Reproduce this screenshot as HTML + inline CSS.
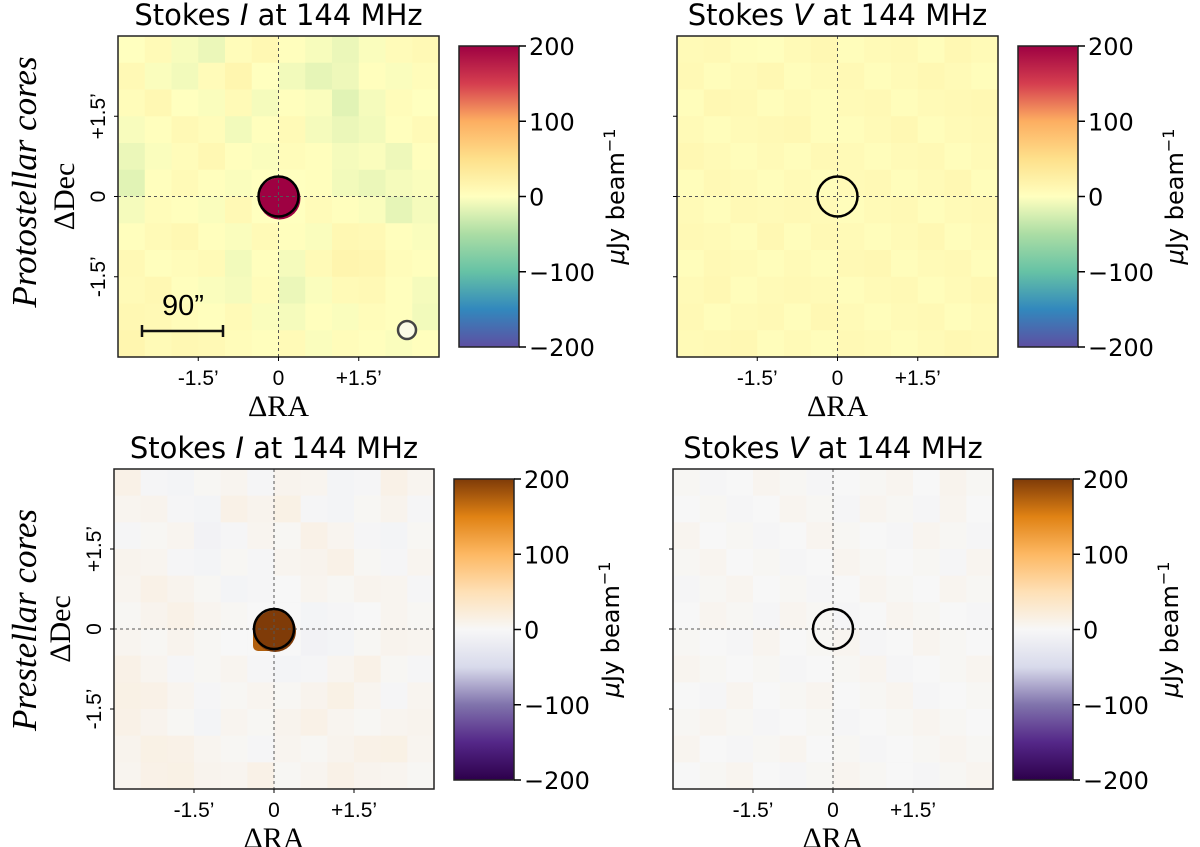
<!DOCTYPE html>
<html><head><meta charset="utf-8"><style>
html,body{margin:0;padding:0;background:#fff;width:1200px;height:847px;overflow:hidden}
svg{display:block}
.t{font-family:"DejaVu Sans","Liberation Sans",sans-serif;font-size:24px;fill:#000}
.ttl{font-family:"DejaVu Sans","Liberation Sans",sans-serif;font-size:29px;fill:#000}
.tk{font-family:"Liberation Sans",sans-serif;font-size:21px;fill:#000}
.ser{font-family:"Liberation Serif",serif;font-size:30px;fill:#000}
.row{font-family:"Liberation Serif",serif;font-style:italic;font-size:35px;fill:#000}
</style></head><body>
<svg id="fig" width="1200" height="847" viewBox="0 0 1200 847" xmlns="http://www.w3.org/2000/svg"></svg>
<script>
// ---- data ----
const cbTicks = [200, 100, 0, -100, -200];
const xTickLabels = ["-1.5\u2019", "0", "+1.5\u2019"];
const xTickVals = [-1.5, 0, 1.5];
const yTickLabels = ["+1.5\u2019", "0", "-1.5\u2019"];
const yTickVals = [1.5, 0, -1.5];
const panelTitles = ["I", "V", "I", "V"];
// coarse 12x12 background maps (μJy/beam), rows top->bottom
const noiseTL = [
[0,8,-5,-12,5,12,2,-5,-12,-3,6,10],
[10,-3,-8,6,15,0,-8,-15,-10,2,-3,5],
[5,12,0,-3,8,-6,2,-3,-18,-6,5,0],
[-4,2,10,5,-8,2,8,-6,-12,-8,2,8],
[-12,-3,5,12,2,-3,5,2,-6,-3,-10,2],
[-18,2,8,2,-3,0,0,2,-8,-12,-6,-3],
[-6,5,2,-3,10,0,0,6,2,-3,-15,-6],
[2,8,12,2,-3,8,2,-3,12,10,2,-3],
[10,2,5,8,-8,2,-6,8,16,14,5,2],
[8,12,2,-3,-6,5,-12,-3,8,10,2,-6],
[12,10,5,2,8,-3,-6,2,-3,5,2,-8],
[15,8,12,10,5,2,8,-3,5,2,-3,2]];
const noiseTR = [
[8,10,4,2,8,12,4,8,10,4,12,8],
[10,4,8,12,4,8,10,4,8,12,8,4],
[4,12,10,4,8,4,8,10,4,8,10,12],
[8,4,8,10,12,4,4,8,12,4,8,10],
[12,8,4,8,4,10,8,4,8,10,4,8],
[4,10,8,4,8,4,8,10,4,8,12,4],
[8,4,10,8,10,8,4,8,10,4,8,10],
[10,8,4,12,4,10,8,4,8,12,4,8],
[4,10,8,4,8,4,10,12,4,8,10,4],
[8,12,4,8,10,8,4,8,10,4,8,12],
[10,4,8,10,4,12,8,4,8,10,4,8],
[8,10,12,4,8,4,10,8,4,8,12,10]];
const noiseBL = [
[12,-3,-6,3,6,-3,8,6,-6,-3,12,6],
[6,8,-3,-6,12,8,14,-3,-6,3,8,-3],
[-3,3,6,-8,-3,6,3,12,6,-3,-6,3],
[8,6,-3,-6,3,-3,6,8,12,3,-3,6],
[6,12,8,3,-6,-3,0,6,3,8,6,-3],
[3,8,12,6,3,0,0,-6,-3,0,6,3],
[6,3,8,3,0,0,0,-8,-6,3,8,6],
[12,6,-3,3,6,-3,-6,-3,6,12,3,-3],
[14,12,6,-3,3,6,3,8,14,6,-3,6],
[12,8,3,-6,6,3,8,12,6,3,6,8],
[8,14,12,6,3,-3,6,3,8,12,14,6],
[6,12,14,8,6,12,3,6,12,8,6,3]];
const noiseBR = [
[3,-3,0,6,3,-3,0,3,6,0,8,3],
[0,3,-3,0,6,3,-3,6,3,-3,6,0],
[6,0,3,-3,0,6,3,0,-3,6,3,-3],
[3,6,0,3,-3,0,6,3,0,3,-3,6],
[-3,3,6,0,3,-3,0,6,3,0,6,3],
[0,6,3,-3,6,3,-3,0,6,3,0,-3],
[3,0,-3,6,0,3,6,-3,0,6,3,0],
[6,3,0,3,-3,0,3,6,-3,0,3,6],
[0,-3,6,0,3,6,0,3,6,-3,0,3],
[3,6,3,-3,0,3,-3,0,3,6,3,0],
[6,0,-3,3,6,0,3,-3,0,3,6,3],
[0,3,6,0,-3,3,6,3,0,-3,3,6]];
const sourceFlux = [250, 0, 250, 0];

// ---- colormaps ----
const spectral = [[-200,[94,79,162]],[-150,[50,136,189]],[-100,[102,194,165]],[-50,[171,221,164]],[0,[255,255,191]],[50,[254,224,139]],[100,[253,174,97]],[150,[213,62,79]],[200,[158,1,66]]];
const puor = [[-200,[45,0,75]],[-150,[84,39,136]],[-100,[128,115,172]],[-50,[216,218,235]],[0,[247,247,247]],[50,[254,224,182]],[100,[253,184,99]],[150,[224,130,20]],[200,[127,59,8]]];
function cmap(stops, v){
  v=Math.max(-200,Math.min(200,v));
  for(let i=0;i<stops.length-1;i++){
    const [a,ca]=stops[i],[b,cb]=stops[i+1];
    if(v<=b){const t=(v-a)/(b-a);
      return `rgb(${ca.map((c,k)=>Math.round(c+(cb[k]-c)*t)).join(',')})`;}
  }
  return 'rgb(158,1,66)';
}
const NS='http://www.w3.org/2000/svg';
const fig=document.getElementById('fig');
function el(tag,attrs,parent,text){const e=document.createElementNS(NS,tag);for(const k in attrs)e.setAttribute(k,attrs[k]);if(text!==undefined)e.textContent=text;(parent||fig).appendChild(e);return e;}

const panels=[
 {x:118,y:36,s:321,cb:[459,46,60,301],map:spectral,noise:noiseTL,ylab:true,name:'protostellar-stokes-i'},
 {x:677,y:36,s:321,cb:[1018,46,60,301],map:spectral,noise:noiseTR,ylab:false,name:'protostellar-stokes-v'},
 {x:114,y:469,s:320,cb:[454,479,60,301],map:puor,noise:noiseBL,ylab:true,name:'prestellar-stokes-i'},
 {x:673,y:469,s:320,cb:[1013,479,60,301],map:puor,noise:noiseBR,ylab:false,name:'prestellar-stokes-v'}];

panels.forEach((p,pi)=>{
  const g=el('g',{});
  
  
  const range=6;
  const xs=v=>p.x+p.s/2+v/range*p.s;
  const ys=v=>p.y+p.s/2-v/range*p.s;
  const n=p.noise.length, cs=p.s/n;
  const hm=el('g',{},g);
  
  
  p.noise.forEach((row,r)=>row.forEach((v,c)=>{
    const rc=el('rect',{x:p.x+c*cs,y:p.y+r*cs,width:cs+0.6,height:cs+0.6,fill:cmap(p.map,v)},hm);
    
    
  }));
  const cx=xs(0), cy=ys(0);
  if(sourceFlux[pi]>0){
    if(pi===2){const sm=el('rect',{x:cx-21,y:cy-6,width:26,height:28,rx:5,fill:cmap(p.map,175)},g);
      }
    const src=el('circle',{cx:cx+1,cy:cy+2,r:21,fill:cmap(p.map,sourceFlux[pi])},g);
    
    
  }
  el('line',{x1:p.x,y1:cy,x2:p.x+p.s,y2:cy,stroke:'#555','stroke-width':1,'stroke-dasharray':'3,3'},g);
  el('line',{x1:cx,y1:p.y,x2:cx,y2:p.y+p.s,stroke:'#555','stroke-width':1,'stroke-dasharray':'3,3'},g);
  const ring=el('circle',{cx:cx,cy:cy,r:20,fill:'none',stroke:'#000','stroke-width':2.5},g);
  
  
  el('rect',{x:p.x,y:p.y,width:p.s,height:p.s,fill:'none',stroke:'#222','stroke-width':1.5},g);
  const tt=el('text',{x:p.x+p.s/2,y:p.y-11,'text-anchor':'middle',class:'ttl'},g);
  
  
  el('tspan',{},tt,'Stokes ');
  el('tspan',{'font-style':'italic'},tt,panelTitles[pi]);
  el('tspan',{},tt,' at 144 MHz');
  xTickVals.forEach((v,i)=>{
    el('line',{x1:xs(v),y1:p.y+p.s,x2:xs(v),y2:p.y+p.s+4,stroke:'#000'},g);
    const t=el('text',{x:xs(v),y:p.y+p.s+28,'text-anchor':'middle',class:'tk'},g,xTickLabels[i]);
    
    
  });
  const xl=el('text',{x:xs(0),y:p.y+p.s+59,'text-anchor':'middle',class:'ser'},g,'\u0394RA');
  
  
  yTickVals.forEach((v,i)=>{
    el('line',{x1:p.x-4,y1:ys(v),x2:p.x,y2:ys(v),stroke:'#000'},g);
    if(p.ylab){
      const t=el('text',{x:0,y:0,'text-anchor':'middle',class:'tk',transform:`translate(${p.x-13},${ys(v)}) rotate(-90)`},g,yTickLabels[i]);
      
      
    }
  });
  if(p.ylab){
    const yl=el('text',{x:0,y:0,'text-anchor':'middle',class:'ser',transform:`translate(${p.x-44},${ys(0)}) rotate(-90)`},g,'\u0394Dec');
    
    
  }
  const [bx,by,bw,bh]=p.cb;
  const gid='grad'+pi;
  const lg=el('linearGradient',{id:gid,x1:0,y1:1,x2:0,y2:0},el('defs',{},g));
  p.map.forEach(([v,c])=>el('stop',{offset:(v+200)/400,'stop-color':`rgb(${c.join(',')})`},lg));
  const cb=el('rect',{x:bx,y:by,width:bw,height:bh,fill:`url(#${gid})`,stroke:'#222','stroke-width':1.5},g);
  
  
  const cys=v=>by+bh/2-v/400*bh;
  cbTicks.forEach(v=>{
    el('line',{x1:bx+bw,y1:cys(v),x2:bx+bw+7,y2:cys(v),stroke:'#000','stroke-width':1.5},g);
    const t=el('text',{x:bx+bw+10,y:cys(v)+9,class:'t'},g,v<0?'\u2212'+(-v):String(v));
    
    
  });
  const ul=el('text',{x:0,y:0,'text-anchor':'middle',class:'t',transform:`translate(${bx+bw+105},${by+bh/2}) rotate(-90)`},g);
  
  
  el('tspan',{'font-style':'italic'},ul,'\u03bc');
  el('tspan',{},ul,'Jy beam');
  el('tspan',{dy:-9,'font-size':16},ul,'\u22121');
});
el('line',{x1:142,y1:331,x2:223,y2:331,stroke:'#111','stroke-width':2.5});
el('line',{x1:142,y1:325,x2:142,y2:337,stroke:'#111','stroke-width':2.5});
el('line',{x1:223,y1:325,x2:223,y2:337,stroke:'#111','stroke-width':2.5});
const sb=el('text',{x:183,y:315,'text-anchor':'middle',style:'font-family:"Liberation Sans",sans-serif;font-size:29px'},fig,'90\u201d');


const bm=el('circle',{cx:407,cy:330,r:9,fill:'#fbfbe6',stroke:'#444','stroke-width':2.5});


const r1=el('text',{x:0,y:0,'text-anchor':'middle',class:'row',transform:'translate(36,182) rotate(-90)'},fig,'Protostellar cores');


const r2=el('text',{x:0,y:0,'text-anchor':'middle',class:'row',transform:'translate(36,620) rotate(-90)'},fig,'Prestellar cores');


</script>
</body></html>
